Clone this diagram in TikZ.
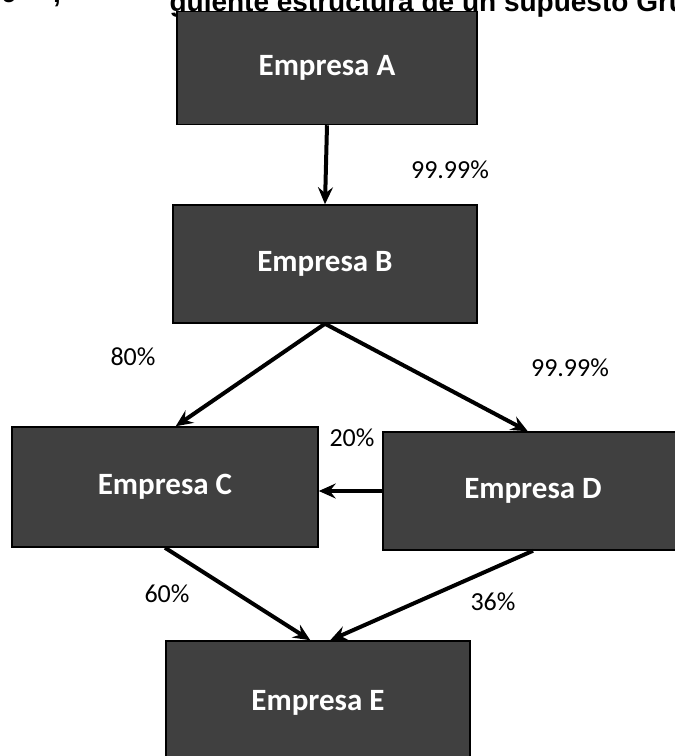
\documentclass[tikz,border=0pt]{standalone}
\usepackage{fontspec}
\setmainfont{Carlito}
\newfontfamily\titlefont{Liberation Sans}
\usetikzlibrary{arrows.meta}

\begin{document}
\begin{tikzpicture}[x=1pt, y=-1pt,
  empresa/.style={draw=black, line width=1.5pt, fill=black!75, text=white,
    font=\fontsize{31}{31}\selectfont\bfseries, inner sep=0pt},
  pct/.style={font=\fontsize{26}{26}\selectfont},
  flecha/.style={-{Stealth[length=17pt, width=15pt, inset=6pt]}, line width=4pt}]

  \useasboundingbox (0,0) rectangle (675,756);

  \node[anchor=base west, font=\titlefont\fontsize{28}{28}\selectfont\bfseries] (titulo) at (166,11)
    {guiente estructura de un supuesto Grupo};
  \node[anchor=base west, font=\titlefont\fontsize{28}{28}\selectfont\bfseries] (num) at (-2,2)
    {9\hspace{36pt},};

  \node[empresa, minimum width=300, minimum height=113] (A) at (327,68)  {Empresa A};
  \node[empresa, minimum width=304, minimum height=118] (B) at (325,264) {Empresa B};
  \node[empresa, minimum width=306, minimum height=120] (C) at (165,487) {Empresa C};
  \node[empresa, minimum width=300, minimum height=118] (D) at (533,491) {Empresa D};
  \node[empresa, minimum width=304, minimum height=124] (E) at (318,703) {Empresa E};

  \draw[flecha] (A.south) -- (B.north); %% A->B
  \draw[flecha] (B.south) -- (C.80);    %% B->C
  \draw[flecha] (B.south) -- (D.95);    %% B->D
  \draw[flecha] (D.west) -- (D.west -| C.east); %% D->C
  \draw[flecha] (C.south) -- (E.97);    %% C->E
  \draw[flecha] (D.south) -- (E.79);    %% D->E

  \node[pct] (pAB) at (450,170) {99.99\%};
  \node[pct] (pBC) at (133,357) {80\%};
  \node[pct] (pBD) at (570,368) {99.99\%};
  \node[pct] (pDC) at (352,438) {20\%};
  \node[pct] (pCE) at (167,594) {60\%};
  \node[pct] (pDE) at (493,602) {36\%};
\end{tikzpicture}
\end{document}
